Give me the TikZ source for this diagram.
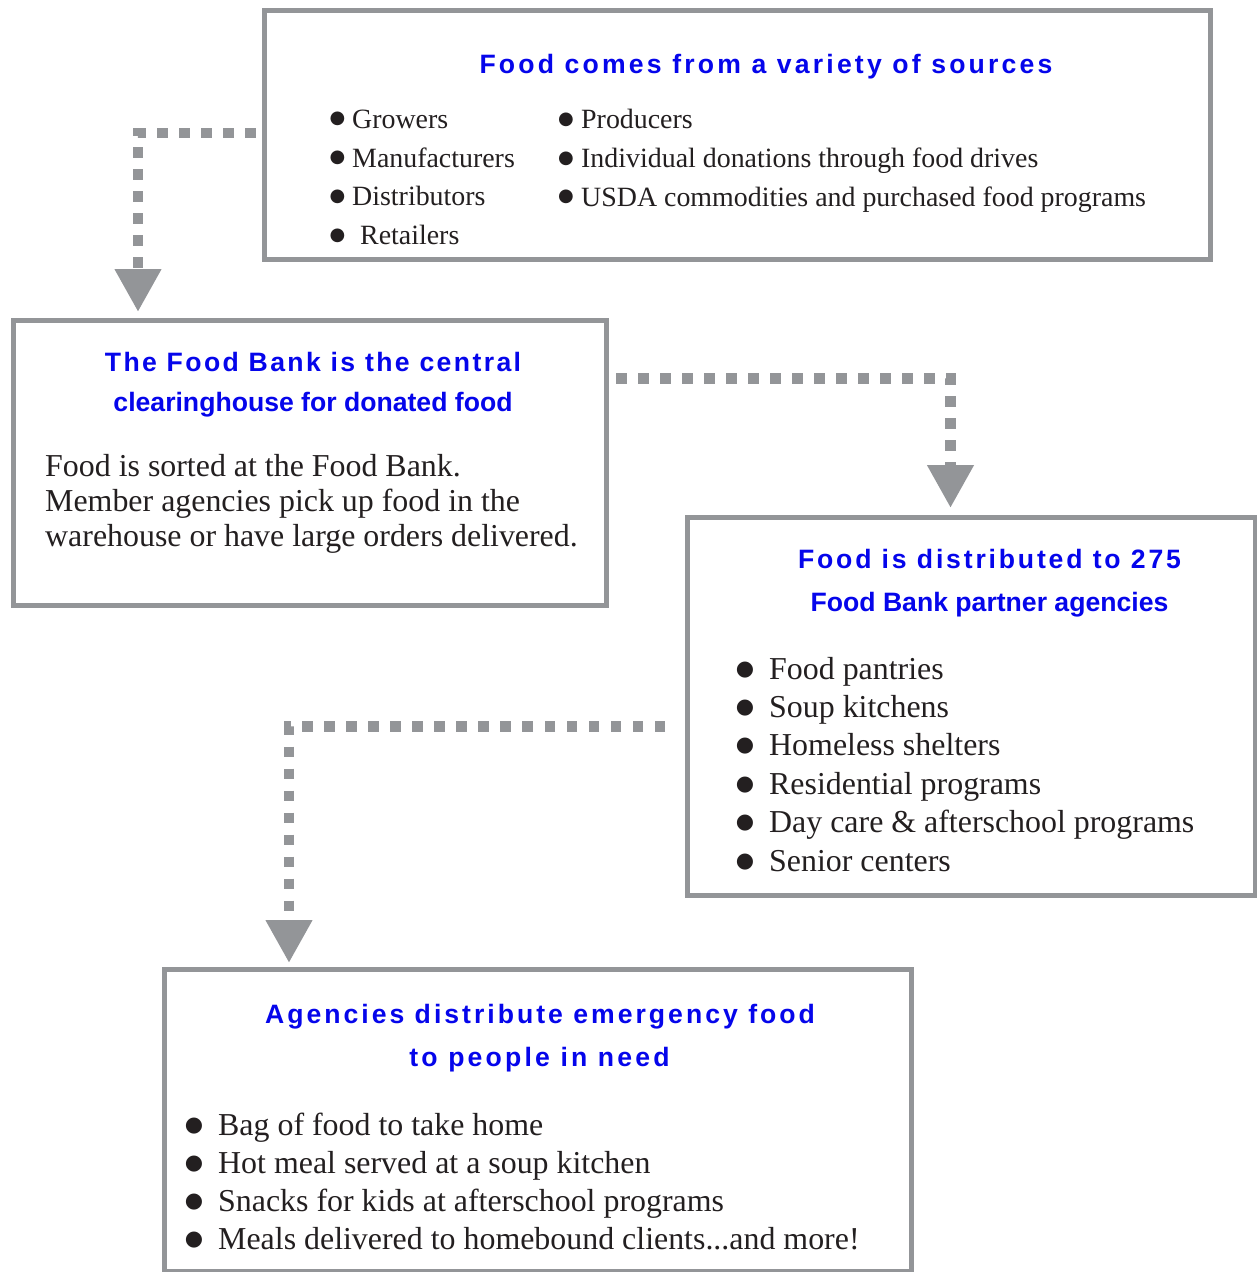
\documentclass[tikz,border=0pt]{standalone}
\usepackage{fontspec}
\setmainfont{Liberation Serif}
\newfontfamily\ttlno{Liberation Sans}
\newfontfamily\bulfont{DejaVu Sans}
\usetikzlibrary{arrows.meta}
\definecolor{fbgray}{RGB}{147,149,152}
\definecolor{fbblue}{RGB}{5,5,235}
\definecolor{fbtext}{RGB}{35,31,32}
\begin{document}
\begin{tikzpicture}[x=1bp,y=-1bp,
  box/.style={draw=fbgray,line width=5bp,fill=white,inner sep=0pt,outer sep=0pt},
  ttl/.style={text=fbblue,anchor=base,inner sep=0pt,font={\ttlno\bfseries\fontsize{26.6bp}{30bp}\selectfont\addfontfeature{LetterSpace=#1}}},
  itemS/.style={text=fbtext,anchor=base west,inner sep=0pt,font={\fontsize{27.9bp}{33bp}\selectfont}},
  itemL/.style={text=fbtext,anchor=base west,inner sep=0pt,font={\fontsize{31.9bp}{38bp}\selectfont}},
  bulS/.style={text=fbtext,anchor=base,inner sep=0pt,yshift=4.5bp,font={\bulfont\fontsize{18bp}{19bp}\selectfont}},
  bulL/.style={text=fbtext,anchor=base,inner sep=0pt,yshift=4bp,font={\bulfont\fontsize{21bp}{22bp}\selectfont}},
  conn/.style={draw=fbgray,line width=10.5bp,dash pattern=on 10.5bp off 11.5bp,
    -{Triangle[width=44bp,length=43bp]}}
]
\useasboundingbox[fill=white] (0,0) rectangle (1257,1272);

% boxes
\node[box,minimum width=945.5bp,minimum height=248.5bp] (b1) at (737.25,134.75) {};
\node[box,minimum width=592.5bp,minimum height=285.5bp] (b2) at (310.25,462.75) {};
\node[box,minimum width=568bp,minimum height=378.5bp] (b3) at (971,706.25) {};
\node[box,minimum width=746bp,minimum height=302bp] (b4) at (538,1120) {};

% connectors
\draw[conn] ([xshift=-8.5bp,yshift=1.75bp]b1.west) -| ([xshift=-172.25bp,yshift=8bp]b2.north);
\draw[conn] ([xshift=9.5bp,yshift=84.25bp]b2.east) -| ([xshift=-20.5bp,yshift=9bp]b3.north);
\draw[conn] ([xshift=-22bp,yshift=-20.25bp]b3.west) -| ([xshift=-249bp,yshift=6bp]b4.north);

% box 1
\node[ttl=12] (h1) at (766,73) {Food comes from a variety of sources};
\node[bulS] (u11) at (337.5,128) {●};
\node[bulS] (u12) at (337.5,167) {●};
\node[bulS] (u13) at (337.5,205.5) {●};
\node[bulS] (u14) at (337.5,244.5) {●};
\node[itemS] (i11) at (352,128) {Growers};
\node[itemS] (i12) at (352,167) {Manufacturers};
\node[itemS] (i13) at (352,205.5) {Distributors};
\node[itemS] (i14) at (360,244.5) {Retailers};
\node[bulS] (u21) at (566,128.5) {●};
\node[bulS] (u22) at (566,167.5) {●};
\node[bulS] (u23) at (566,206) {●};
\node[itemS] (i21) at (581,128.5) {Producers};
\node[itemS] (i22) at (581,167.5) {Individual donations through food drives};
\node[itemS] (i23) at (581,206) {USDA commodities and purchased food programs};

% box 2
\node[ttl=9] (h2a) at (313,371) {The Food Bank is the central};
\node[ttl=0] (h2b) at (313,411.5) {clearinghouse for donated food};
\node[itemL] (p1) at (45,476.5) {Food is sorted at the Food Bank.};
\node[itemL] (p2) at (45,511.5) {Member agencies pick up food in the};
\node[itemL] (p3) at (45,546.5) {warehouse or have large orders delivered.};

% box 3
\node[ttl=10.6] (h3a) at (989.5,568) {Food is distributed to 275};
\node[ttl=0] (h3b) at (989.5,611) {Food Bank partner agencies};
\node[bulL] (v1) at (745,679) {●};
\node[bulL] (v2) at (745,717.4) {●};
\node[bulL] (v3) at (745,755.8) {●};
\node[bulL] (v4) at (745,794.2) {●};
\node[bulL] (v5) at (745,832.6) {●};
\node[bulL] (v6) at (745,871) {●};
\node[itemL] (j1) at (769,679) {Food pantries};
\node[itemL] (j2) at (769,717.4) {Soup kitchens};
\node[itemL] (j3) at (769,755.8) {Homeless shelters};
\node[itemL] (j4) at (769,794.2) {Residential programs};
\node[itemL] (j5) at (769,832.6) {Day care \& afterschool programs};
\node[itemL] (j6) at (769,871) {Senior centers};

% box 4
\node[ttl=11.3] (h4a) at (540,1023.5) {Agencies distribute emergency food};
\node[ttl=12] (h4b) at (539.5,1066.5) {to people in need};
\node[bulL] (w1) at (194,1135) {●};
\node[bulL] (w2) at (194,1173) {●};
\node[bulL] (w3) at (194,1211) {●};
\node[bulL] (w4) at (194,1249) {●};
\node[itemL] (m1) at (218,1135) {Bag of food to take home};
\node[itemL] (m2) at (218,1173) {Hot meal served at a soup kitchen};
\node[itemL] (m3) at (218,1211) {Snacks for kids at afterschool programs};
\node[itemL] (m4) at (218,1249) {Meals delivered to homebound clients...and more!};
\end{tikzpicture}
\end{document}
